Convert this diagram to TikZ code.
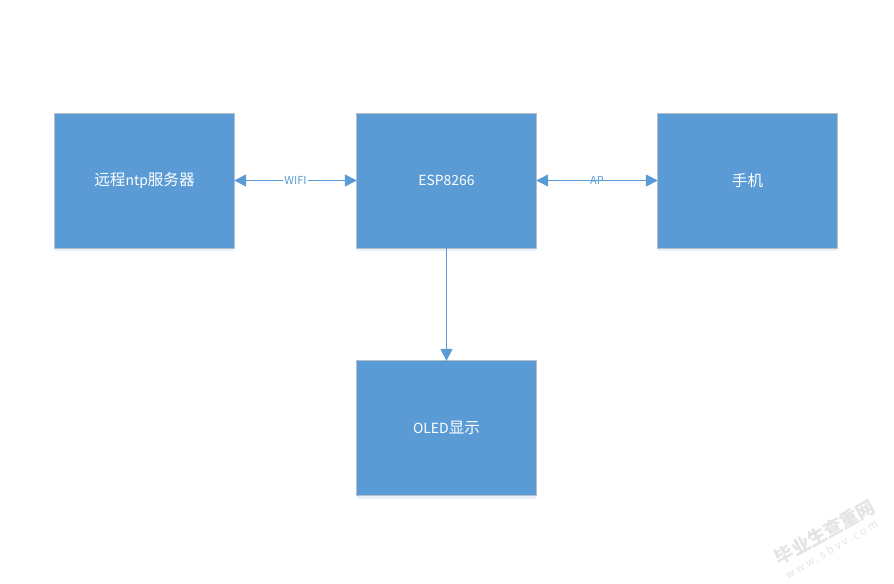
\documentclass[tikz,border=0pt]{standalone}
\usepackage{fontspec}
\setmainfont{Noto Sans CJK SC}
\usepackage{xcolor}
\usetikzlibrary{arrows.meta,shadows}
\definecolor{boxblue}{HTML}{5B9BD5}
\definecolor{boxedge}{HTML}{B4BFC9}
\definecolor{markgray}{HTML}{E4E4E4}
\newcommand{\zh}[1]{{\fontsize{13.3}{15}\selectfont #1}}
\tikzset{
    block/.style={draw=boxedge,line width=0.8pt,fill=boxblue,text=white,font=\fontsize{11.9}{14}\selectfont,
        minimum width=5.39cm,minimum height=4.05cm,inner sep=0pt,
        drop shadow={fill=boxblue!14,opacity=1,shadow xshift=0pt,shadow yshift=-2.5pt}},
    link/.style={draw=boxblue,line width=1.2pt,-{Triangle[length=0.36cm,width=0.36cm]},shorten >=-0.5pt},
    both/.style={link,{Triangle[length=0.36cm,width=0.36cm]}-{Triangle[length=0.36cm,width=0.36cm]},shorten <=-0.5pt},
    tag/.style={text=boxblue,font=\fontsize{9.4}{11}\selectfont,inner sep=1pt}
}
\begin{document}
\begin{tikzpicture}[x=0.03cm,y=-0.03cm]
    \useasboundingbox (0,0) rectangle (894,583);
    \node[block] (server) at (144.5,180.5) {\zh{远程}ntp\zh{服务器}};
    \node[block] (esp) at (446.5,180.5) {ESP8266};
    \node[block] (phone) at (747.5,180.5) {\zh{手机}};
    \node[block] (oled) at (446.5,428.2) {OLED\zh{显示}};
    \draw[both] (server) -- node[tag,fill=white] (wifi) {WIFI} (esp);
    \draw[both] (esp) -- node[tag] (ap) {AP} (phone);
    \draw[link] (esp) -- (oled);
    \node[rotate=29,text=markgray,font=\bfseries\fontsize{15.8}{18}\selectfont] (mark) at (825,532) {毕业生查重网};
    \node[rotate=30,text=markgray,font=\fontsize{9.5}{12}\selectfont\addfontfeature{LetterSpace=22}] (site) at (832,549) {www.sbvv.com};
\end{tikzpicture}
\end{document}
